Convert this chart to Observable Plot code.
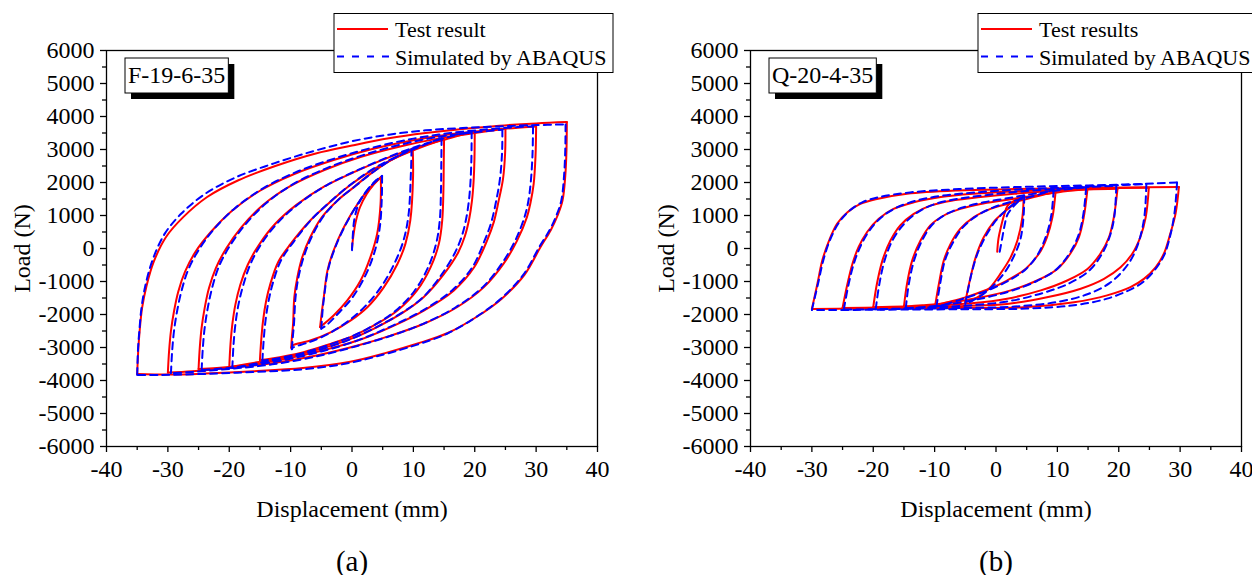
<!DOCTYPE html>
<html><head><meta charset="utf-8">
<script src="https://cdn.jsdelivr.net/npm/d3@7"></script>
<script src="https://cdn.jsdelivr.net/npm/@observablehq/plot@0.6"></script>
<style>
html,body{margin:0;padding:0;background:#fff;overflow:hidden;width:1252px;height:575px;}
#wrap{position:relative;width:1252px;height:575px;overflow:hidden;}
.panel{position:absolute;top:0;width:640px;height:575px;}
.panel svg{max-width:none !important;width:640px !important;height:575px !important;}
</style></head><body><div id="wrap"></div>
<script>
// ---- axis ticks ----
const xMajor = [-40,-30,-20,-10,0,10,20,30,40];
const xMinor = [-35,-25,-15,-5,5,15,25,35];
const yMajor = [-6000,-5000,-4000,-3000,-2000,-1000,0,1000,2000,3000,4000,5000,6000];
const yMinor = [-5500,-4500,-3500,-2500,-1500,-500,500,1500,2500,3500,4500,5500];

// ---- labels ----
const panelTags = ["F-19-6-35", "Q-20-4-35"];
const panelCaptions = ["(a)", "(b)"];
const testLabels = ["Test result", "Test results"];
const simLabel = "Simulated by ABAQUS";
const xTitle = "Displacement (mm)";
const yTitle = "Load (N)";

// ---- panel (a) F-19-6-35 : test result, branches of [displacement mm, load N] ----
const aTest = [
  [[0,0],[0.2,350],[0.6,800],[1.3,1250],[2.4,1650],[3.6,1950],[4.7,2160]],
  [[4.7,2160],[4.65,1350],[4.1,450],[3,-260],[1.4,-970],[-0.8,-1580],[-3,-2030],[-5.2,-2380]],
  [[-5.2,-2380],[-4.9,-1900],[-4.6,-1480],[-4,-670],[-3,-60],[-1.3,650],[0.9,1350],[3,1860],[4.7,2160]],
  [[9.9,2990],[9.95,2200],[9.5,850],[8.7,140],[7.4,-470],[5.2,-1170],[2.5,-1780],[-0.2,-2180],[-3.5,-2540],[-6.8,-2790],[-9.7,-2940],[-9.9,-3010]],
  [[-9.9,-3010],[-9.8,-2700],[-9.6,-2280],[-9.4,-1480],[-8.9,-870],[-8.1,-260],[-6.8,340],[-4.9,950],[-2.4,1450],[0.3,1860],[3,2260],[6.3,2670],[9.9,2990]],
  [[15,3320],[14.95,2600],[14.9,1800],[14.7,850],[14.15,140],[12.8,-570],[10.6,-1270],[7.4,-1880],[4.1,-2280],[0.3,-2640],[-3.5,-2890],[-7.9,-3140],[-13.3,-3340],[-15,-3380]],
  [[-15,-3380],[-14.8,-2800],[-14.5,-2200],[-14,-1600],[-13.3,-1070],[-12,-400],[-10,140],[-6.8,850],[-4.2,1300],[-0.8,1850],[3.5,2400],[8,2820],[12,3120],[15,3320]],
  [[20,3560],[19.95,2700],[19.8,2000],[19.55,1450],[19.1,900],[18.4,380],[17.3,-120],[15,-770],[11.7,-1470],[8.4,-1930],[4.1,-2380],[-0.2,-2740],[-5.1,-3040],[-10.6,-3290],[-15.5,-3450],[-20,-3600]],
  [[-20,-3600],[-19.8,-2900],[-19.5,-2300],[-19,-1700],[-18.2,-1100],[-17,-500],[-15.2,100],[-12.5,750],[-9,1330],[-4.5,1880],[0.5,2330],[6,2760],[11,3090],[16,3350],[20,3560]],
  [[25,3630],[24.95,2900],[24.6,2100],[23.9,1450],[23.1,800],[22,240],[19.9,-570],[16.6,-1270],[11.7,-1880],[6.3,-2380],[0.9,-2790],[-5,-3100],[-11,-3350],[-17,-3530],[-22,-3620],[-25,-3650]],
  [[-25,-3650],[-24.8,-3000],[-24.5,-2400],[-24,-1800],[-23.3,-1200],[-22.2,-600],[-20.5,0],[-18,650],[-14.5,1320],[-10,1900],[-4.5,2380],[1.5,2780],[8,3100],[14,3330],[20,3500],[25,3630]],
  [[30,3700],[29.9,2800],[29.6,1960],[29.1,1400],[28.5,950],[26.9,240],[24.7,-460],[21.5,-1170],[17.1,-1780],[11.7,-2280],[6.3,-2640],[0.9,-2940],[-6,-3250],[-13,-3480],[-20,-3620],[-26,-3720],[-30,-3760]],
  [[-30,-3760],[-29.8,-3100],[-29.5,-2500],[-29,-1900],[-28.3,-1300],[-27.2,-700],[-25.5,-100],[-23,500],[-19.5,1150],[-15,1750],[-9.5,2250],[-3,2680],[3,3000],[10,3280],[16,3460],[22,3580],[27,3660],[30,3700]],
  [[35,3830],[34.95,3000],[34.75,2200],[34.3,1450],[33.5,1000],[32.4,560],[30.7,40],[28.1,-800],[24.4,-1520],[20.4,-2060],[15.6,-2560],[10.7,-2880],[5.4,-3170],[-0.5,-3440],[-8,-3620],[-16,-3720],[-24,-3790],[-30,-3820],[-35,-3800]],
  [[-35,-3800],[-34.8,-3000],[-34.6,-2500],[-34.2,-1800],[-33.5,-1150],[-32.3,-400],[-30.3,350],[-27.5,950],[-23.6,1560],[-18.6,2060],[-12.5,2500],[-5.9,2880],[0,3120],[6,3340],[12,3500],[18,3620],[24,3720],[30,3790],[35,3830]]
];

// ---- panel (a) simulated by ABAQUS ----
const aSim = [
  [[0,-50],[0.1,300],[0.4,900],[1.2,1400],[2.6,1800],[4,2080],[4.9,2200]],
  [[4.9,2200],[4.85,1500],[4.5,600],[3.6,-150],[2.1,-850],[0,-1500],[-2.4,-2000],[-4,-2300],[-5,-2430]],
  [[-5,-2430],[-4.8,-1900],[-4.5,-1400],[-3.9,-650],[-2.8,0],[-1.1,700],[1.1,1400],[3.1,1900],[4.9,2200]],
  [[9.7,3020],[9.6,2300],[9.2,1000],[8.4,250],[7,-420],[4.9,-1120],[2.2,-1740],[-0.6,-2200],[-3.8,-2580],[-7,-2840],[-9.6,-3000],[-9.8,-3050]],
  [[-9.8,-3050],[-9.65,-2700],[-9.45,-2280],[-9.2,-1480],[-8.7,-850],[-7.8,-220],[-6.5,380],[-4.6,990],[-2.1,1500],[0.6,1900],[3.3,2300],[6.5,2700],[9.7,3020]],
  [[14.6,3350],[14.55,2600],[14.5,1800],[14.3,850],[13.7,140],[12.4,-570],[10.2,-1280],[7.1,-1890],[3.8,-2300],[0,-2660],[-3.8,-2920],[-8.1,-3170],[-13.3,-3370],[-14.6,-3400]],
  [[-14.6,-3400],[-14.4,-2800],[-14.1,-2200],[-13.6,-1600],[-12.9,-1050],[-11.6,-370],[-9.6,180],[-6.5,900],[-3.9,1360],[-0.5,1900],[3.8,2450],[8.2,2860],[12,3160],[14.6,3350]],
  [[19.5,3550],[19.45,2700],[19.3,2000],[19.05,1450],[18.6,900],[17.9,380],[16.8,-120],[14.6,-790],[11.5,-1490],[8.1,-1950],[3.8,-2400],[-0.5,-2770],[-5.3,-3070],[-10.8,-3320],[-15.5,-3480],[-19.5,-3620]],
  [[-19.5,-3620],[-19.3,-2900],[-19,-2300],[-18.5,-1700],[-17.7,-1100],[-16.5,-450],[-14.7,160],[-12,800],[-8.5,1380],[-4,1930],[1,2380],[6.3,2800],[11.2,3130],[16,3390],[19.5,3550]],
  [[24.5,3600],[24.45,2900],[24.1,2100],[23.5,1450],[22.7,800],[21.6,240],[19.6,-570],[16.3,-1270],[11.5,-1880],[6.1,-2380],[0.7,-2800],[-5,-3120],[-11,-3380],[-17,-3560],[-22,-3650],[-24.5,-3680]],
  [[-24.5,-3680],[-24.3,-3000],[-24,-2400],[-23.5,-1800],[-22.8,-1200],[-21.7,-550],[-20,50],[-17.5,700],[-14,1370],[-9.6,1950],[-4.2,2430],[1.8,2830],[8,3150],[14,3380],[20,3520],[24.5,3600]],
  [[29.5,3700],[29.4,2800],[29.1,1960],[28.7,1400],[28.1,950],[26.6,240],[24.4,-460],[21.3,-1170],[16.9,-1780],[11.5,-2290],[6.1,-2660],[0.7,-2960],[-6,-3280],[-13,-3510],[-20,-3650],[-26,-3740],[-29.5,-3780]],
  [[-29.5,-3780],[-29.3,-3100],[-29,-2500],[-28.5,-1900],[-27.8,-1300],[-26.7,-650],[-25,-50],[-22.6,560],[-19.2,1200],[-14.7,1800],[-9.3,2300],[-2.8,2730],[3.2,3050],[10,3330],[16,3500],[22,3610],[27,3680],[29.5,3700]],
  [[34.8,3760],[34.75,3000],[34.55,2200],[34.1,1450],[33.3,1000],[32.2,560],[30.5,40],[27.9,-800],[24.2,-1530],[20.2,-2080],[15.4,-2590],[10.5,-2920],[5.2,-3210],[-0.7,-3480],[-8,-3660],[-16,-3740],[-24,-3800],[-31,-3830],[-35,-3830]],
  [[-35,-3830],[-34.85,-3000],[-34.65,-2500],[-34.3,-1800],[-33.7,-1150],[-32.5,-350],[-30.5,450],[-27.8,1060],[-23.9,1660],[-18.9,2160],[-12.7,2580],[-6.1,2960],[0,3250],[6,3450],[12,3580],[18,3650],[24,3700],[30,3740],[34.8,3760]]
];

// ---- panel (b) Q-20-4-35 : test results ----
const bTest = [
  [[0.2,-100],[0.4,300],[0.8,650],[1.3,1000],[1.9,1300],[3,1450],[4.5,1550]],
  [[4.5,1550],[4.3,950],[3.5,250],[2.4,-260],[0.7,-770],[-0.9,-1170],[-2.5,-1420],[-3.8,-1550],[-5,-1630]],
  [[-5,-1630],[-4.6,-1250],[-4.15,-870],[-3.3,-260],[-2,340],[-0.4,800],[1.3,1100],[3,1350],[4.5,1550]],
  [[9.7,1710],[9.2,950],[8.3,340],[7,-160],[4.8,-620],[1.8,-970],[-1.5,-1250],[-5,-1480],[-8,-1630],[-9.9,-1720]],
  [[-9.9,-1720],[-9.3,-1070],[-8.5,-360],[-7.4,140],[-5.8,600],[-3.6,950],[-0.9,1200],[1.8,1350],[5,1500],[7.5,1620],[9.7,1710]],
  [[14.9,1800],[14.3,950],[13.5,340],[12.1,-160],[10,-620],[6.7,-970],[2.4,-1270],[-3,-1500],[-8,-1650],[-12,-1720],[-15,-1760]],
  [[-15,-1760],[-14.5,-1070],[-13.65,-360],[-12.3,240],[-10.7,700],[-8.5,1000],[-5.8,1200],[-2.5,1350],[1.3,1460],[5,1570],[10,1700],[14.9,1800]],
  [[19.8,1810],[19.2,950],[18.4,340],[17,-160],[14.9,-620],[11.6,-970],[7.3,-1270],[1.8,-1520],[-4,-1660],[-10,-1730],[-15,-1760],[-20,-1780]],
  [[-20,-1780],[-19.4,-1070],[-18.5,-360],[-17.2,240],[-15.6,700],[-13.4,1050],[-10.7,1300],[-6.9,1460],[-2.5,1560],[3,1660],[9,1740],[15,1790],[19.8,1810]],
  [[24.9,1840],[24.4,950],[23.5,340],[22.2,-160],[20.3,-570],[17.6,-920],[13.8,-1220],[8.3,-1480],[1.8,-1680],[-5,-1740],[-12,-1770],[-19,-1790],[-25,-1800]],
  [[-25,-1800],[-24.2,-1070],[-23.4,-470],[-22.4,40],[-21,500],[-19.1,900],[-16.7,1200],[-13.4,1400],[-9,1560],[-3.6,1660],[3,1730],[10,1780],[17,1820],[24.9,1840]],
  [[29.8,1860],[29.25,1050],[28.4,450],[27.35,-160],[26,-570],[24.1,-920],[21.9,-1170],[18.1,-1420],[12.7,-1630],[4.5,-1780],[-5,-1800],[-15,-1810],[-23,-1820],[-30,-1830]],
  [[-30,-1830],[-29.1,-1070],[-28.3,-360],[-27.2,240],[-25.9,750],[-24.2,1100],[-22.1,1350],[-19.4,1500],[-14.5,1660],[-6.3,1760],[3,1800],[12,1830],[21,1850],[29.8,1860]]
];

// ---- panel (b) simulated by ABAQUS ----
const bSim = [
  [[0.6,-100],[1,300],[1.4,700],[1.8,1000],[2.5,1200],[3.5,1400],[4.6,1600]],
  [[4.6,1600],[4.5,1000],[4,300],[3,-200],[1.5,-700],[-0.3,-1100],[-2.2,-1400],[-3.8,-1580],[-5,-1680]],
  [[-5,-1680],[-4.5,-1200],[-3.9,-700],[-3,-150],[-1.6,400],[0,850],[1.6,1150],[3.2,1400],[4.6,1600]],
  [[9.4,1780],[9,1000],[8.2,400],[6.9,-150],[4.9,-620],[2,-980],[-1.5,-1280],[-5,-1500],[-8,-1680],[-9.7,-1760]],
  [[-9.7,-1760],[-9.1,-1070],[-8.3,-350],[-7.1,150],[-5.5,620],[-3.2,980],[-0.5,1240],[2.2,1400],[5.5,1560],[7.8,1680],[9.4,1780]],
  [[14.7,1860],[14.2,1000],[13.4,380],[12,-140],[9.8,-640],[6.5,-1000],[2.2,-1300],[-3,-1540],[-8,-1700],[-12,-1780],[-14.7,-1810]],
  [[-14.7,-1810],[-14.2,-1070],[-13.3,-330],[-12,260],[-10.4,720],[-8.1,1040],[-5.3,1250],[-2,1400],[1.8,1520],[5.5,1640],[10,1760],[14.7,1860]],
  [[19.6,1900],[19.3,1000],[18.6,400],[17.3,-150],[15.3,-650],[12,-1050],[7.6,-1350],[2,-1600],[-4,-1720],[-10,-1780],[-15,-1820],[-19.6,-1840]],
  [[-19.6,-1840],[-19,-1070],[-18.1,-330],[-16.8,270],[-15.1,720],[-12.9,1080],[-10.2,1330],[-6.4,1500],[-2,1610],[3.5,1720],[9.5,1800],[15,1860],[19.6,1900]],
  [[24.5,1950],[24.2,1000],[23.5,350],[22.4,-200],[20.8,-650],[18.5,-1050],[15,-1380],[10,-1620],[3,-1760],[-5,-1800],[-12,-1820],[-19,-1840],[-24.8,-1850]],
  [[-24.8,-1850],[-24,-1070],[-23.1,-420],[-22,100],[-20.6,550],[-18.7,940],[-16.3,1230],[-13,1450],[-8.7,1600],[-3.3,1700],[3,1780],[10,1840],[17,1900],[24.5,1950]],
  [[29.5,2000],[29.1,1100],[28.4,400],[27.4,-200],[26,-620],[24.2,-980],[22.4,-1200],[18.1,-1520],[12.7,-1720],[5,-1820],[-5,-1840],[-15,-1850],[-23,-1860],[-30,-1860]],
  [[-30,-1860],[-29,-1070],[-28.1,-330],[-27,280],[-25.6,780],[-23.9,1140],[-21.8,1400],[-19,1560],[-14,1700],[-6,1800],[3,1860],[12,1900],[21,1940],[29.5,2000]]
];

function toRows(branches, prefix) {
  const rows = [];
  branches.forEach((br, i) => br.forEach(([d, f]) => rows.push({b: prefix + i, d, f})));
  return rows;
}

const FONT = "'Liberation Serif', 'Times New Roman', serif";

function makePanel(test, sim, tag, caption, testLabel, left) {
  const svg = Plot.plot({
    width: 640, height: 575,
    marginTop: 50, marginBottom: 129, marginLeft: 106, marginRight: 43,
    style: {fontFamily: FONT, fontSize: "24px", color: "#000", background: "#fff", overflow: "visible"},
    x: {domain: [-40, 40]},
    y: {domain: [-6000, 6000]},
    marks: [
      Plot.line(toRows(test, "t"), {x: "d", y: "f", z: "b", stroke: "#ff0000", strokeWidth: 2, curve: "catmull-rom"}),
      Plot.line(toRows(sim, "s"), {x: "d", y: "f", z: "b", stroke: "#0000ff", strokeWidth: 2, strokeDasharray: "7,5", curve: "catmull-rom"}),
      Plot.frame({stroke: "#000", strokeWidth: 1.3}),
      Plot.axisX(xMajor, {tickSize: 6, tickPadding: 7, tickFormat: d => String(d), label: null, strokeWidth: 1.3, fontSize: 24}),
      Plot.axisX(xMinor, {tickSize: 4, tickFormat: () => "", label: null, strokeWidth: 1.3}),
      Plot.axisY(yMajor, {tickSize: 6, tickPadding: 6, tickFormat: d => String(d), label: null, strokeWidth: 1.3, fontSize: 24}),
      Plot.axisY(yMinor, {tickSize: 4, tickFormat: () => "", label: null, strokeWidth: 1.3}),
      Plot.text([xTitle], {text: d => d, frameAnchor: "bottom", dy: 70, fontSize: 24, textAnchor: "middle"}),
      Plot.text([yTitle], {text: d => d, frameAnchor: "left", dx: -84, rotate: -90, fontSize: 24, textAnchor: "middle"}),
      Plot.text([caption], {text: d => d, frameAnchor: "bottom", dy: 124, fontSize: 29, textAnchor: "middle"})
    ]
  });
  const div = document.createElement("div");
  div.className = "panel";
  div.style.left = left + "px";
  div.appendChild(svg);
  document.getElementById("wrap").appendChild(div);

  const s = d3.select(svg);
  // tag box with shadow
  const g = s.append("g");
  const t = g.append("text").attr("x", 128).attr("y", 83).attr("text-anchor", "start")
    .attr("font-family", FONT).attr("font-size", 24).attr("fill", "#000").text(tag);
  const tw = t.node().getComputedTextLength();
  const bw = tw + 6;
  g.insert("rect", "text").attr("x", 131).attr("y", 64).attr("width", bw).attr("height", 35).attr("fill", "#000");
  g.insert("rect", "text").attr("x", 125).attr("y", 58).attr("width", bw).attr("height", 35).attr("fill", "#fff").attr("stroke", "#000").attr("stroke-width", 1);

  // legend
  const lg = s.append("g");
  lg.append("rect").attr("x", 334).attr("y", 13.5).attr("width", 279).attr("height", 59).attr("fill", "#fff").attr("stroke", "#000").attr("stroke-width", 1);
  lg.append("line").attr("x1", 337).attr("x2", 388).attr("y1", 29).attr("y2", 29).attr("stroke", "#ff0000").attr("stroke-width", 2);
  lg.append("line").attr("x1", 337).attr("x2", 390).attr("y1", 56.5).attr("y2", 56.5).attr("stroke", "#0000ff").attr("stroke-width", 2).attr("stroke-dasharray", "7,8");
  lg.append("text").attr("x", 395).attr("y", 37).attr("text-anchor", "start").attr("font-family", FONT).attr("font-size", 22).attr("fill", "#000").text(testLabel);
  lg.append("text").attr("x", 395).attr("y", 64.5).attr("text-anchor", "start").attr("font-family", FONT).attr("font-size", 22).attr("fill", "#000").text(simLabel);
}

makePanel(aTest, aSim, panelTags[0], panelCaptions[0], testLabels[0], 0);
makePanel(bTest, bSim, panelTags[1], panelCaptions[1], testLabels[1], 644);
</script></body></html>
